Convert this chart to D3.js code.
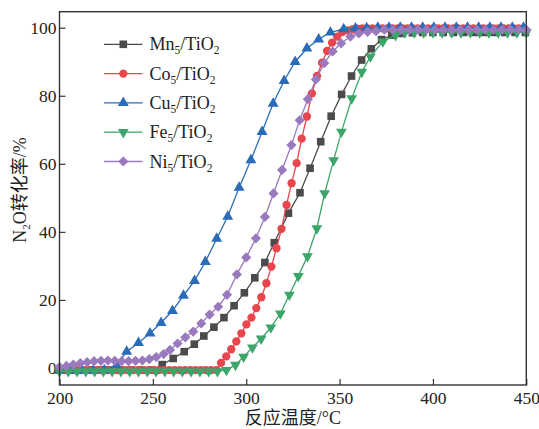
<!DOCTYPE html>
<html>
<head>
<meta charset="utf-8">
<script src="https://cdn.jsdelivr.net/npm/d3@7"></script>
<style>
  body { margin: 0; background: #fff; }
  text { font-family: "Liberation Serif", "Times New Roman", "Noto Sans CJK SC", serif; fill: #222; }
</style>
</head>
<body>
<svg id="chart" width="539" height="429"></svg>
<script>
// Reaction temperature (°C) and N2O conversion (%) for each catalyst
const mnTemp = [200,205.5,211,216.5,222,227.5,233,238.5,244,249.5,
  255,260.9,266.8,272.2,277.3,282.7,288.1,293.5,299,304.6,310,315,322.6,328.8,334.2,339.9,345.5,351.1,356.4,361.8,367,372.5,378,383.5,389,
  394.5,400,405.5,411,416.5,422,427.5,433,438.5,444,449.5];
const mnConv = [-0.6,-0.6,-0.6,-0.6,-0.6,-0.6,-0.6,-0.6,-0.6,-0.6,
  1.0,2.8,4.8,7.0,9.4,12.0,14.8,18.3,22.1,26.5,31.0,36.8,45.5,51.5,58.7,66.5,74.0,80.4,85.8,90.5,93.8,96.5,97.8,98.3,98.5,
  98.6,98.6,98.6,98.6,98.6,98.6,98.6,98.6,98.6,98.6,98.6];

const coTemp = [200,202.8,205.6,208.4,211.2,214,216.8,219.6,222.4,225.2,228,230.8,233.6,236.4,239.2,242,244.8,247.6,250.4,253.2,256,258.8,261.6,264.4,267.2,270,272.8,275.6,278.4,281.2,284,
  286.5,289.3,292,294.7,297.4,300.1,302.8,305.4,308.1,310.8,313.5,316.2,318.9,321.6,324.3,327,329.7,332.5,335.2,337.9,340.6,343.3,346,348.7,351.4,354.1,356.8,
  359.5,362.2,364.9,367.6,370.3,373,375.7,378.4,381.1,383.8,386.5,389.2,391.9,394.6,397.3,400,402.7,405.4,408.1,410.8,413.5,416.2,418.9,421.6,424.3,427,429.7,432.4,435.1,437.8,440.5,443.2,445.9,448.6];
const coConv = [-0.6,-0.6,-0.6,-0.6,-0.6,-0.6,-0.6,-0.6,-0.6,-0.6,-0.6,-0.6,-0.6,-0.6,-0.6,-0.6,-0.6,-0.6,-0.6,-0.6,-0.6,-0.6,-0.6,-0.6,-0.6,-0.6,-0.6,-0.6,-0.6,-0.6,-0.6,
  1.5,3.4,5.5,7.8,10.2,12.8,14.8,17.6,20.8,24.9,29.8,35.2,40.9,47.9,54.3,60.2,67.4,73.9,80.7,85.8,89.7,93.2,95.6,97.4,98.7,99.2,99.5,
  99.7,99.8,99.8,99.8,99.8,99.8,99.8,99.8,99.8,99.8,99.8,99.8,99.8,99.8,99.8,99.8,99.8,99.8,99.8,99.8,99.8,99.8,99.8,99.8,99.8,99.8,99.8,99.8,99.8,99.8,99.8,99.8,99.8,99.8];

const cuTemp = [200,206,212,218,224,230.5,
  236,242.3,248.5,254.4,260.5,266.4,272.3,278.1,284.2,290.1,296.2,302.5,308.5,314.4,320.3,326.2,332.5,338.8,345.1,352.2,
  358.5,364.5,370.5,376.5,382.5,388.5,394.5,400.5,406.5,412.5,418.5,424.5,430.5,436.5,442.5,448.5];
const cuConv = [-0.8,-0.8,-0.8,-0.8,-0.6,0.8,
  4.8,7.4,10.2,13.3,16.8,21.3,25.6,31.2,38.0,44.5,53.0,61.1,69.4,77.7,84.4,90.0,93.9,96.6,98.6,99.6,
  99.8,99.9,100,100,100,100,100,100,100,100,100,100,100,100,100,100];

const feTemp = [200,204.7,209.4,214.1,218.8,223.5,228.2,232.9,237.6,242.3,247,251.7,256.4,261.1,265.8,270.5,275.2,279.9,284.6,
  289.4,294.2,298.6,303.3,308,313.2,318.3,323.1,327.9,332.8,337.8,342,346.8,351,356.5,361.9,366.5,373.2,380,
  385,390,395,400,405,410,415,420,425,430,435,440,445,450];
const feConv = [-1.0,-1.0,-1.0,-1.0,-1.0,-1.0,-1.0,-1.0,-1.0,-1.0,-1.0,-1.0,-1.0,-1.0,-1.0,-1.0,-1.0,-1.0,-1.0,
  -0.6,0.9,3.3,6.0,8.6,11.9,16.0,21.5,27.0,32.8,41.0,51.3,61.0,69.4,79.2,87.0,91.5,95.9,97.8,
  98.6,98.6,98.6,98.6,98.6,98.6,98.6,98.6,98.6,98.6,98.6,98.6,98.6,98.6];

const niTemp = [200,203.7,207.4,211.1,214.8,218.5,222.2,225.9,229.6,233.3,237,240.7,244.4,248.1,251.8,
  255.8,259.2,263.2,267.4,271.6,275.9,280.4,285,289.7,295,300,305.2,310,314.6,319.2,324.2,328.6,333,337.3,341.8,346.3,350.8,355.8,360.3,365,369.5,
  374,378.5,383,387.5,392,396.5,401,405.5,410,414.5,419,423.5,428,432.5,437,441.5,446,450];
const niConv = [0.3,0.6,1.0,1.4,1.7,2.0,2.1,2.2,2.1,2.0,2.0,2.1,2.2,2.6,3.2,
  4.1,5.3,7.2,9.0,10.7,13.1,15.7,18.0,21.5,27.5,32.5,38.1,44.4,51.3,58.2,65.5,72.8,79.0,84.8,89.6,93.0,95.4,97.4,98.3,98.8,99.0,
  99.4,99.4,99.4,99.4,99.4,99.4,99.4,99.4,99.4,99.4,99.4,99.4,99.4,99.4,99.4,99.4,99.4,99.4];

const seriesMetal = ["Mn", "Co", "Cu", "Fe", "Ni"];
const seriesColor = ["#4b4b4b", "#e8464c", "#2b6cb9", "#3ba56a", "#9a7abf"];
const seriesSymbol = ["square", "circle", "triangleUp", "triangleDown", "diamond"];
const xTickValues = [200, 250, 300, 350, 400, 450];
const yTickValues = [0, 20, 40, 60, 80, 100];
const xTitle = "反应温度/°C";

const temps = [mnTemp, coTemp, cuTemp, feTemp, niTemp];
const convs = [mnConv, coConv, cuConv, feConv, niConv];
const series = seriesMetal.map((m, i) => ({
  metal: m,
  color: seriesColor[i],
  symbol: seriesSymbol[i],
  points: temps[i].map((t, j) => ({ t, v: convs[i][j] }))
}));

const W = 539, H = 429;
const margin = { left: 59.5, right: 12.7, top: 11.7, bottom: 44 };
const svg = d3.select("#chart");

const x = d3.scaleLinear().domain([200, 450]).range([margin.left, W - margin.right]);
const y = d3.scaleLinear().domain([-5, 104.7]).range([H - margin.bottom, margin.top]);

// marker shapes
function markerPath(kind) {
  switch (kind) {
    case "square": return d3.symbol(d3.symbolSquare, 58)();
    case "circle": return d3.symbol(d3.symbolCircle, 54)();
    case "triangleUp": return d3.symbol(d3.symbolTriangle, 52)();
    case "triangleDown": return d3.symbol(d3.symbolTriangle, 50)();
    case "diamond": return d3.symbol(d3.symbolSquare, 52)();
  }
}
function markerRotate(kind) {
  if (kind === "triangleDown") return 180;
  if (kind === "diamond") return 45;
  return 0;
}

// axes with inward ticks
const xAxis = d3.axisBottom(x).tickValues(xTickValues).tickSizeInner(-6).tickSizeOuter(0).tickPadding(7);
const yAxis = d3.axisLeft(y).tickValues(yTickValues).tickSizeInner(-6).tickSizeOuter(0).tickPadding(3);

const gx = svg.append("g").attr("transform", `translate(0,${H - margin.bottom})`).call(xAxis);
const gy = svg.append("g").attr("transform", `translate(${margin.left},0)`).call(yAxis);
[gx, gy].forEach(g => {
  g.select(".domain").remove();
  g.selectAll(".tick line").attr("stroke", "#333").attr("stroke-width", 1.2);
  g.selectAll(".tick text").attr("font-size", 17.5).attr("fill", "#222")
    .attr("font-family", "'Liberation Serif', 'Times New Roman', serif");
});

// series lines and markers
const line = d3.line().x(d => x(d.t)).y(d => y(d.v));
series.forEach(s => {
  const g = svg.append("g");
  g.append("path").datum(s.points)
    .attr("d", line).attr("fill", "none")
    .attr("stroke", s.color).attr("stroke-width", 1.3);
  const p = markerPath(s.symbol), r = markerRotate(s.symbol);
  g.selectAll("path.mk").data(s.points).join("path")
    .attr("class", "mk")
    .attr("d", p)
    .attr("transform", d => `translate(${x(d.t)},${y(d.v)}) rotate(${r})`)
    .attr("fill", s.color);
});

// frame
svg.append("rect")
  .attr("x", margin.left).attr("y", margin.top)
  .attr("width", W - margin.left - margin.right)
  .attr("height", H - margin.top - margin.bottom)
  .attr("fill", "none").attr("stroke", "#333").attr("stroke-width", 1.4);

// legend
const legend = svg.append("g");
series.forEach((s, i) => {
  const ly = 44.3 + i * 29.3;
  legend.append("line").attr("x1", 104).attr("x2", 142.5).attr("y1", ly).attr("y2", ly)
    .attr("stroke", s.color).attr("stroke-width", 1.3);
  legend.append("path").attr("d", markerPath(s.symbol))
    .attr("transform", `translate(123.3,${ly}) rotate(${markerRotate(s.symbol)})`)
    .attr("fill", s.color);
  const t = legend.append("text").attr("x", 149.5).attr("y", ly + 6).attr("font-size", 18);
  t.append("tspan").text(s.metal);
  t.append("tspan").attr("dy", 4).attr("font-size", 11.5).text("5");
  t.append("tspan").attr("dy", -4).text("/TiO");
  t.append("tspan").attr("dy", 4).attr("font-size", 11.5).text("2");
});

// axis titles
svg.append("text")
  .attr("x", (margin.left + W - margin.right) / 2).attr("y", 424)
  .attr("text-anchor", "middle").attr("font-size", 18)
  .text(xTitle);

const yt = svg.append("text")
  .attr("transform", "translate(26,190) rotate(-90)")
  .attr("text-anchor", "middle").attr("font-size", 18);
yt.append("tspan").text("N");
yt.append("tspan").attr("dy", 4).attr("font-size", 11).text("2");
yt.append("tspan").attr("dy", -4).text("O转化率/%");
</script>
</body>
</html>
